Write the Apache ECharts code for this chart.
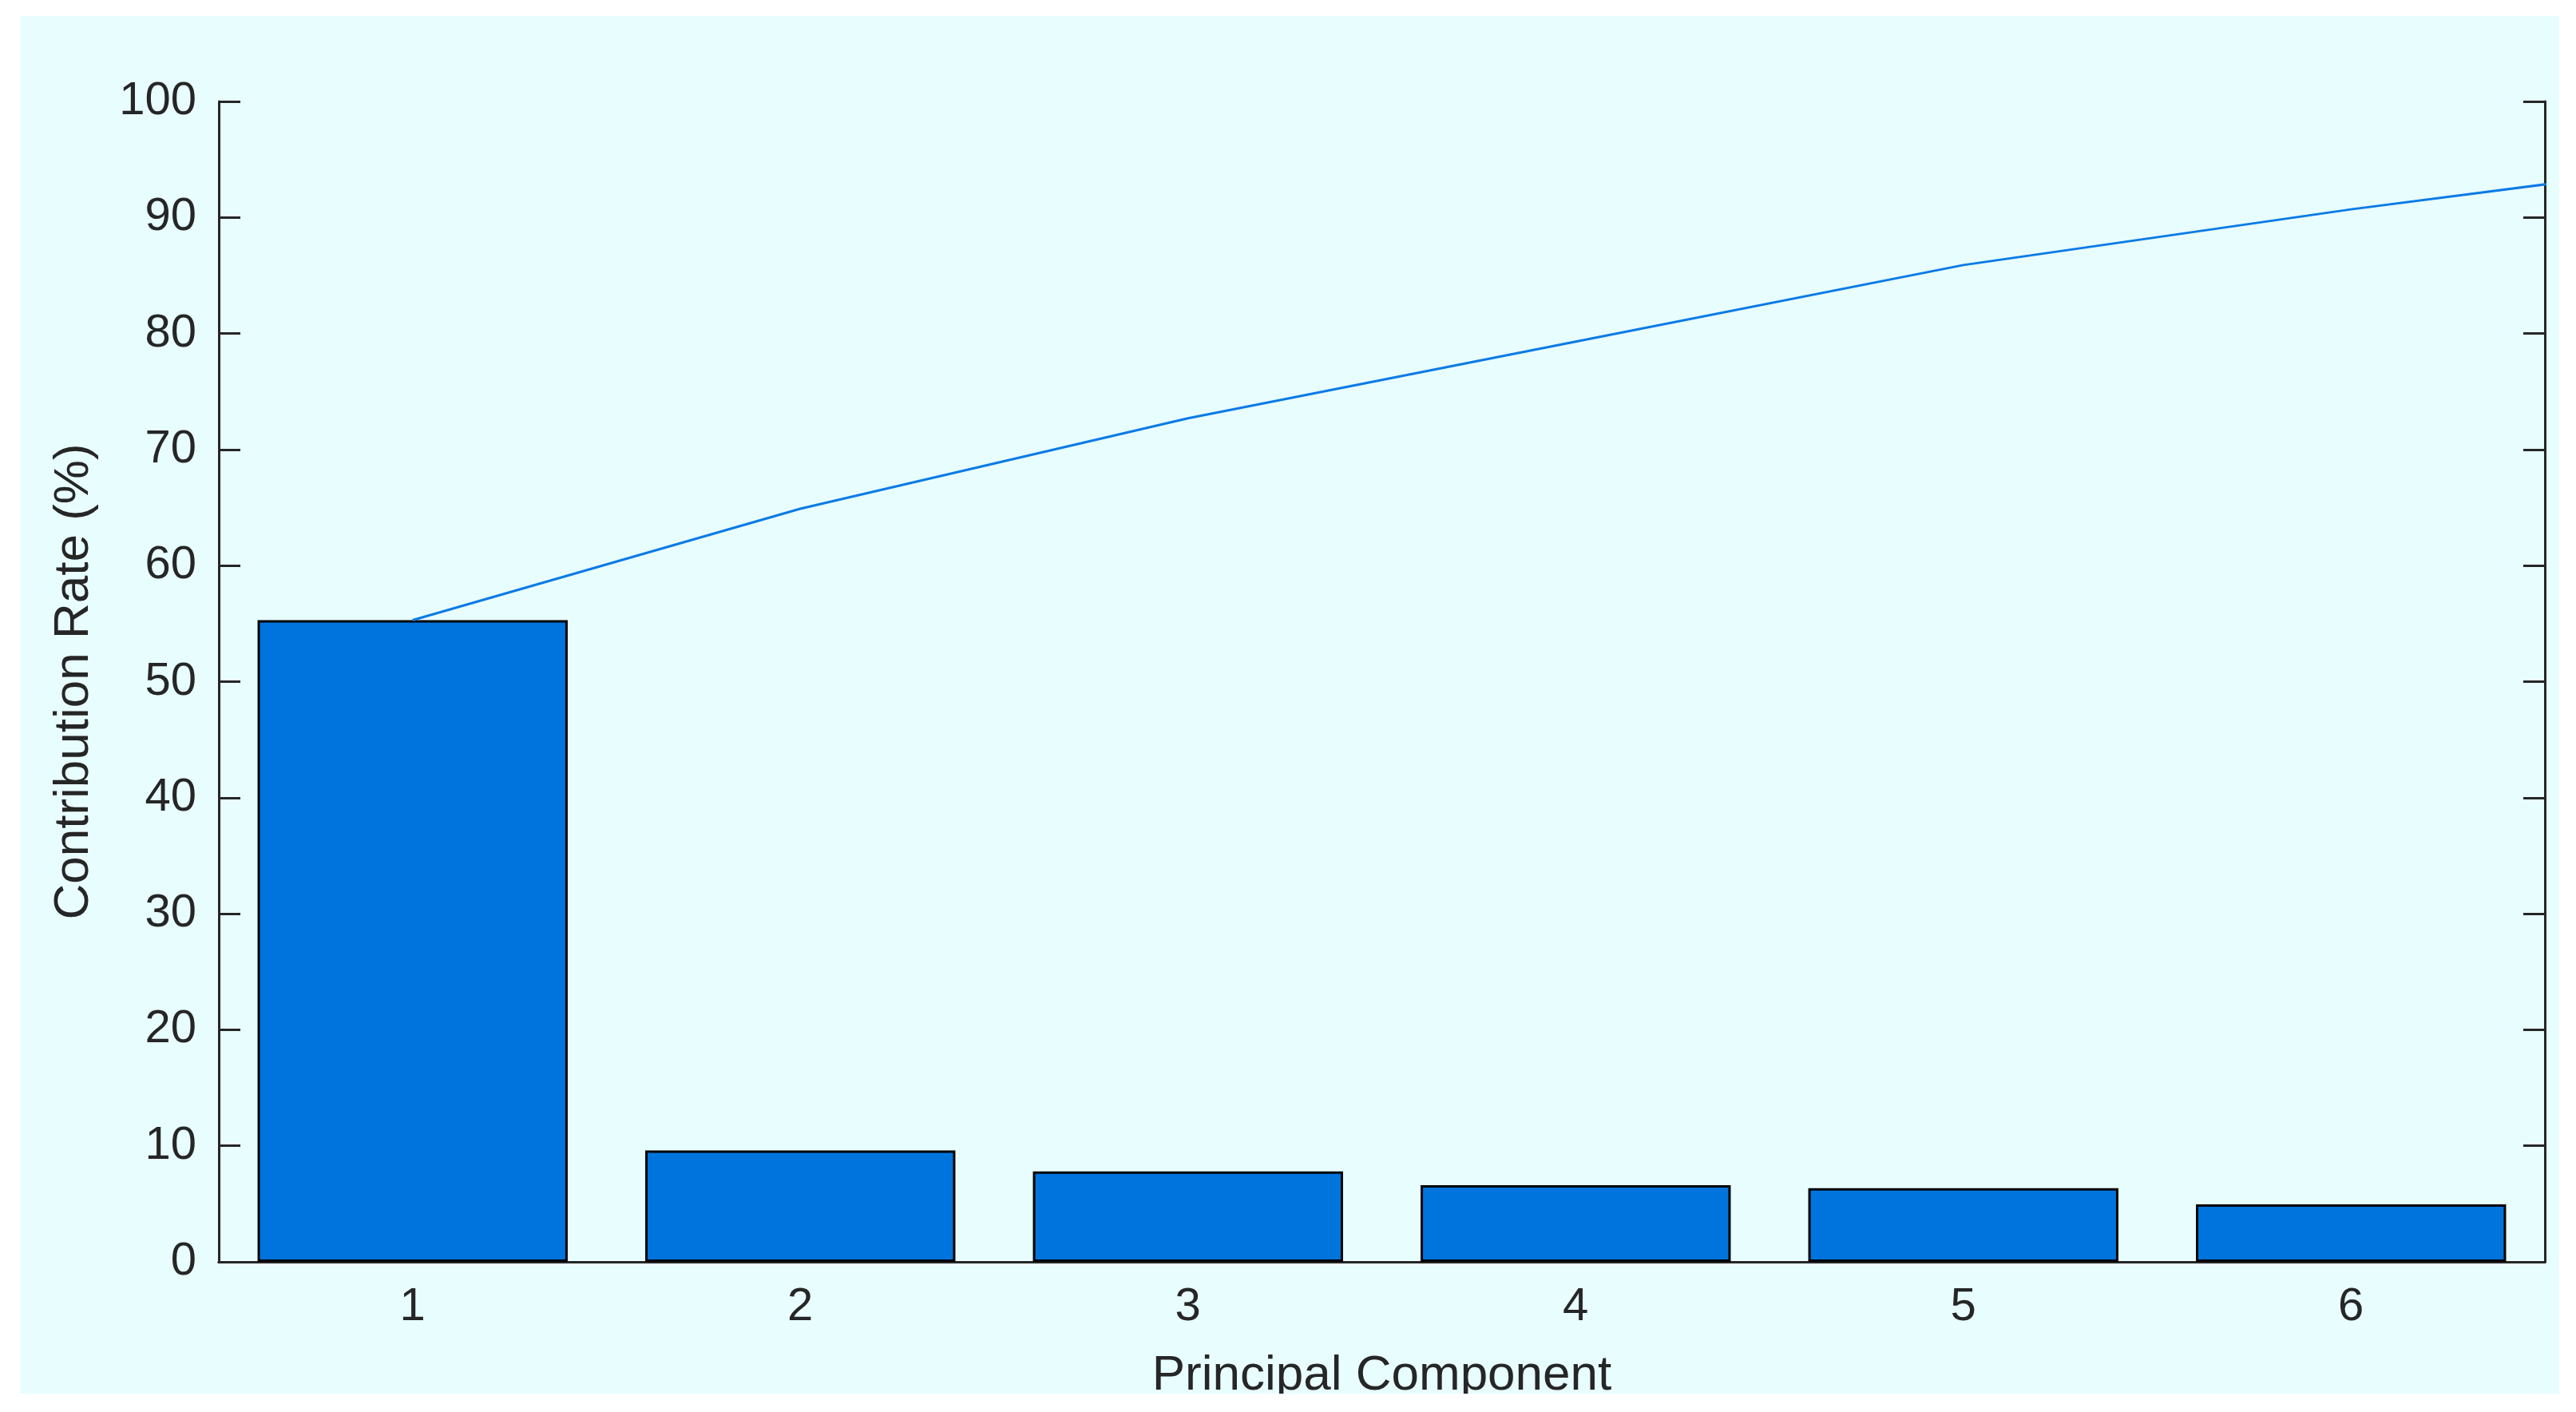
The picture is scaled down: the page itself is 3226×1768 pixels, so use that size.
<!DOCTYPE html>
<html>
<head>
<meta charset="utf-8">
<title>Contribution Rate</title>
<script src="https://cdn.jsdelivr.net/npm/echarts@6/dist/echarts.min.js"></script>
<style>
    html, body {
        margin: 0;
        padding: 0;
        background: #ffffff;
    }

    .frame {
        position: absolute;
        left: 25px;
        top: 20px;
        width: 3180px;
        height: 1725px;
        background: #e8fdfd;
        overflow: hidden;
    }

    #chart {
        width: 3180px;
        height: 1748px;
    }
</style>
</head>
<body>
<div class="frame">
    <div id="chart"></div>
</div>
<script>
    // principal components shown on the x axis
    var components = ['1', '2', '3', '4', '5', '6'];
    // contribution rate of each component (%)
    var contribution = [55.3, 9.6, 7.8, 6.6, 6.35, 4.95];
    // cumulative contribution (%), the 7th point runs past the right edge
    var cumulative = [55.3, 64.9, 72.7, 79.3, 85.9, 90.7, 95.0];
    var yTicks = [0, 100, 10];

    var axisColor = '#262626';
    var fontName = 'Liberation Sans';

    var linePoints = cumulative.map(function (v, i) {
        return [i + 1, v];
    });

    var chart = echarts.init(document.getElementById('chart'));

    var option = {
        animation: false,
        grid: {
            left: 249,
            top: 107,
            right: 18,
            bottom: 188
        },
        xAxis: [
            {
                type: 'category',
                position: 'bottom',
                data: components,
                boundaryGap: true,
                axisLine: {lineStyle: {color: axisColor, width: 3}},
                axisTick: {inside: true, alignWithLabel: true, length: 27, lineStyle: {color: axisColor, width: 3}},
                axisLabel: {fontSize: 58, color: axisColor, margin: 28, fontFamily: fontName},
                splitLine: {show: false},
                name: 'Principal Component',
                nameLocation: 'middle',
                nameGap: 112,
                nameTextStyle: {fontSize: 62, color: axisColor, fontFamily: fontName}
            },
            {
                type: 'category',
                position: 'top',
                data: components,
                boundaryGap: true,
                axisLine: {lineStyle: {color: axisColor, width: 3}},
                axisTick: {inside: true, alignWithLabel: true, length: 27, lineStyle: {color: axisColor, width: 3}},
                axisLabel: {show: false},
                splitLine: {show: false}
            },
            {
                // hidden axis so the cumulative line can run out to the edge
                type: 'value',
                position: 'bottom',
                min: 0.5,
                max: 6.5,
                show: false
            }
        ],
        yAxis: [
            {
                type: 'value',
                position: 'left',
                min: yTicks[0],
                max: yTicks[1],
                interval: yTicks[2],
                axisLine: {show: true, lineStyle: {color: axisColor, width: 3}},
                axisTick: {show: true, inside: true, length: 27, lineStyle: {color: axisColor, width: 3}},
                axisLabel: {fontSize: 58, color: axisColor, margin: 28, fontFamily: fontName},
                splitLine: {show: false},
                name: 'Contribution Rate (%)',
                nameLocation: 'middle',
                nameRotate: 90,
                nameGap: 150,
                nameTextStyle: {fontSize: 62, color: axisColor, fontFamily: fontName}
            },
            {
                type: 'value',
                position: 'right',
                min: yTicks[0],
                max: yTicks[1],
                interval: yTicks[2],
                axisLine: {show: true, lineStyle: {color: axisColor, width: 3}},
                axisTick: {show: true, inside: true, length: 27, lineStyle: {color: axisColor, width: 3}},
                axisLabel: {show: false},
                splitLine: {show: false}
            }
        ],
        series: [
            {
                name: 'Contribution',
                type: 'bar',
                xAxisIndex: 0,
                yAxisIndex: 0,
                data: contribution,
                barWidth: '80%',
                itemStyle: {color: '#0074dd', borderColor: '#000000', borderWidth: 3}
            },
            {
                name: 'Cumulative',
                type: 'line',
                xAxisIndex: 2,
                yAxisIndex: 0,
                data: linePoints,
                showSymbol: false,
                clip: true,
                lineStyle: {color: '#0a7ae6', width: 3},
                z: 3
            }
        ]
    };

    chart.setOption(option);
</script>
</body>
</html>
